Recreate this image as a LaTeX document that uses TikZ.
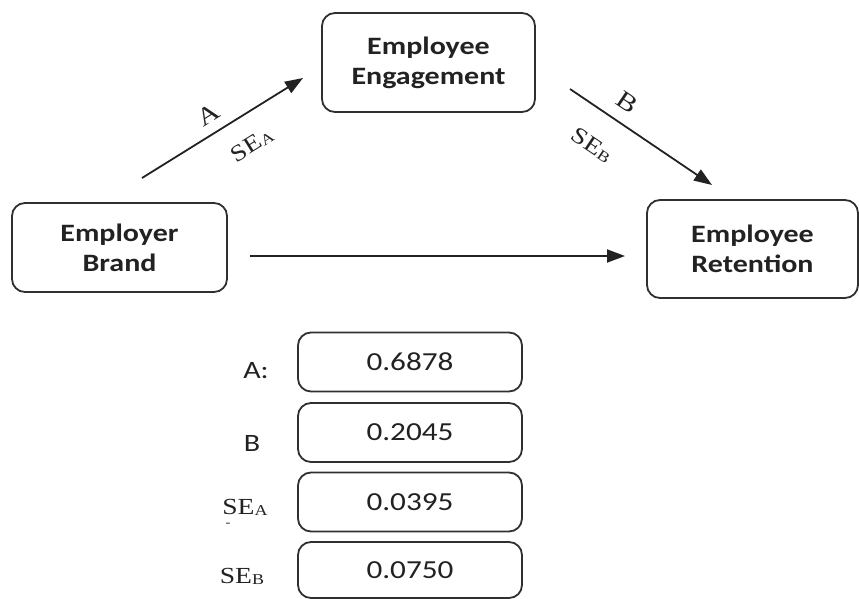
\documentclass[tikz,border=0pt]{standalone}
\usepackage{fontspec}
\setmainfont[FakeStretch=1.2]{Carlito}
\newfontfamily\tnr[FakeStretch=1.2]{Liberation Serif}
\usetikzlibrary{arrows.meta}
\definecolor{ink}{HTML}{222222}
\definecolor{edge}{HTML}{303030}
\begin{document}
\begin{tikzpicture}[x=1pt,y=-1pt,
  box/.style={draw=edge, line width=1.8pt, rounded corners=13pt, align=center, inner sep=0pt, text=ink},
  concept/.style={box, font=\fontsize{25}{30}\selectfont\bfseries},
  valbox/.style={box, minimum width=224pt, minimum height=59pt, font=\fontsize{26}{26}\selectfont},
  arr/.style={draw=ink, line width=1.8pt, -{Triangle[length=18pt,width=13pt]}},
  lbl/.style={text=ink, inner sep=0pt, font=\fontsize{25}{25}\selectfont},
  slbl/.style={text=ink, inner sep=0pt, font=\tnr\fontsize{23}{23}\selectfont},
]
\useasboundingbox (0,0) rectangle (859,599);
\newcommand{\SEsub}[1]{SE{\fontsize{15}{15}\selectfont\raisebox{-1pt}{#1}}}

% concept boxes
\node[concept, minimum width=215pt, minimum height=89pt] (brand) at (119.5,247.5) {Employer\\Brand};
\node[concept, minimum width=213pt, minimum height=99pt] (engage) at (428.5,62.5) {Employee\\Engagement};
\node[concept, minimum width=211pt, minimum height=98pt] (retain) at (752.5,249) {Employee\\Retention};

% arrows
\coordinate (a0) at (142,178);
\coordinate (a1) at (303,78);
\coordinate (b0) at (570,89);
\coordinate (b1) at (712,185);
\coordinate (c0) at (250,256);
\coordinate (c1) at (625,256);
\draw[arr] (a0) -- (a1);
\draw[arr] (b0) -- (b1);
\draw[arr] (c0) -- (c1);

% arrow labels
\node[slbl, rotate=32, font=\tnr\fontsize{25}{25}\selectfont] (la) at (208,115) {A};
\node[slbl, rotate=32] (lsea) at (252,145) {\SEsub{A}};
\node[slbl, rotate=-34, font=\tnr\fontsize{25}{25}\selectfont] (lb) at (627,102) {B};
\node[slbl, rotate=-34] (lseb) at (592,145) {\SEsub{B}};

% value boxes
\node[valbox] (v1) at (410,362) {0.6878};
\node[valbox] (v2) at (410,432.5) {0.2045};
\node[valbox] (v3) at (410,502) {0.0395};
\node[valbox, minimum height=56pt] (v4) at (410,570) {0.0750};

% value labels
\node[lbl] (t1) at (256,371) {A:};
\node[lbl] (t2) at (252,443) {B};
\node[slbl] (t3) at (245,507) {\SEsub{A}};
\node[slbl, font=\tnr\fontsize{12}{12}\selectfont] (t3d) at (228,525) {-};
\node[slbl] (t4) at (242,576) {\SEsub{B}};
\end{tikzpicture}
\end{document}
